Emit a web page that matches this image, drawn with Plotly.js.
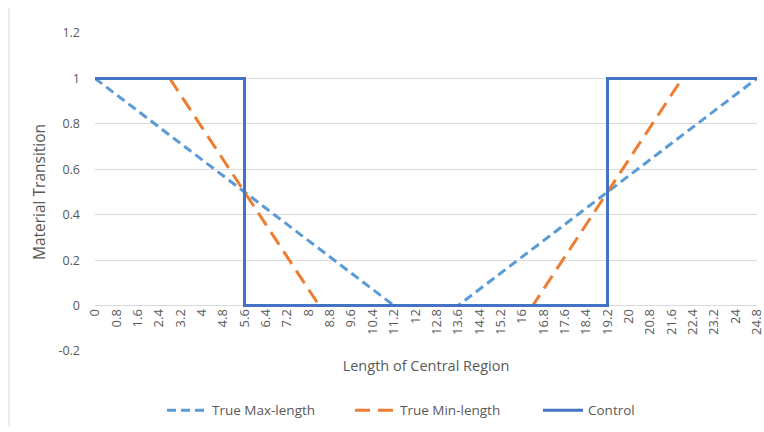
<!DOCTYPE html>
<html>
<head>
<meta charset="utf-8">
<script src="https://cdn.plot.ly/plotly-3.0.1.min.js"></script>
<style>
  html, body { margin: 0; padding: 0; background: #fff; }
  #chart { width: 764px; height: 432px; }
</style>
</head>
<body>
<div id="chart"></div>
<script>
// Category labels along the length axis (every 0.8)
const xTickVals = [0, 0.8, 1.6, 2.4, 3.2, 4, 4.8, 5.6, 6.4, 7.2, 8, 8.8, 9.6, 10.4, 11.2, 12,
                   12.8, 13.6, 14.4, 15.2, 16, 16.8, 17.6, 18.4, 19.2, 20, 20.8, 21.6, 22.4, 23.2, 24, 24.8];
const xTickText = ["0", "0.8", "1.6", "2.4", "3.2", "4", "4.8", "5.6", "6.4", "7.2", "8", "8.8", "9.6", "10.4", "11.2", "12",
                   "12.8", "13.6", "14.4", "15.2", "16", "16.8", "17.6", "18.4", "19.2", "20", "20.8", "21.6", "22.4", "23.2", "24", "24.8"];
const yTickVals = [-0.2, 0, 0.2, 0.4, 0.6, 0.8, 1, 1.2];
const yTickText = ["-0.2", "0", "0.2", "0.4", "0.6", "0.8", "1", "1.2"];

// True Max-length profile
const maxLenX = [0, 11.2, 13.6, 24.8];
const maxLenY = [1, 0, 0, 1];

// True Min-length profile
const minLenX = [2.8, 8.4, 16.4, 22.0];
const minLenY = [1, 0, 0, 1];

// Control (step) profile
const controlX = [0, 5.6, 5.6, 19.2, 19.2, 24.8];
const controlY = [1, 1, 0, 0, 1, 1];

const FONT = "Open Sans, Lato, sans-serif";
const GREY = "#595959";

const traces = [
  { x: maxLenX, y: maxLenY, name: "True Max-length", type: "scatter", mode: "lines",
    line: { color: "#5B9BD5", width: 3, dash: "9px,5px" } },
  { x: minLenX, y: minLenY, name: "True Min-length", type: "scatter", mode: "lines",
    line: { color: "#ED7D31", width: 3, dash: "15px,8px" } },
  { x: controlX, y: controlY, name: "Control", type: "scatter", mode: "lines",
    line: { color: "#4472C4", width: 3 } }
];

const layout = {
  width: 764, height: 432,
  margin: { l: 95, r: 7, t: 33, b: 80 },
  paper_bgcolor: "#fff", plot_bgcolor: "#fff",
  font: { family: FONT, size: 12, color: GREY },
  showlegend: true,
  legend: {
    orientation: "h", x: (162 - 95) / 662, xanchor: "left", y: -0.183, yanchor: "middle",
    entrywidth: 133, itemwidth: 40,
    font: { family: FONT, size: 13.5, color: GREY }, traceorder: "normal"
  },
  xaxis: {
    range: [0, 24.8],
    tickvals: xTickVals, ticktext: xTickText, tickangle: -90,
    ticklabeloverflow: "allow",
    showgrid: false, zeroline: false, showline: false, ticks: "",
    anchor: "free", position: 0.2 / 1.4,
    tickfont: { family: FONT, size: 13, color: GREY },
    title: { text: "Length of Central Region", font: { family: FONT, size: 14.5, color: GREY }, standoff: 26 }
  },
  yaxis: {
    range: [-0.2, 1.2],
    tickvals: yTickVals, ticktext: yTickText,
    showgrid: true, gridcolor: "#D9D9D9", gridwidth: 1,
    zeroline: true, zerolinecolor: "#D9D9D9", zerolinewidth: 1,
    showline: false, ticks: "", ticklabelstandoff: 14,
    tickfont: { family: FONT, size: 12.5, color: GREY },
    title: { text: "Material Transition", font: { family: FONT, size: 15.5, color: GREY }, standoff: 8 }
  },
  shapes: [
    { type: "line", xref: "paper", yref: "paper",
      x0: (9 - 95) / 662, x1: (9 - 95) / 662, y0: (351.7 - 8) / 319, y1: (351.7 - 428) / 319,
      line: { color: "#D9D9D9", width: 1 } }
  ]
};

Plotly.newPlot("chart", traces, layout, { displayModeBar: false, staticPlot: true });
</script>
</body>
</html>
